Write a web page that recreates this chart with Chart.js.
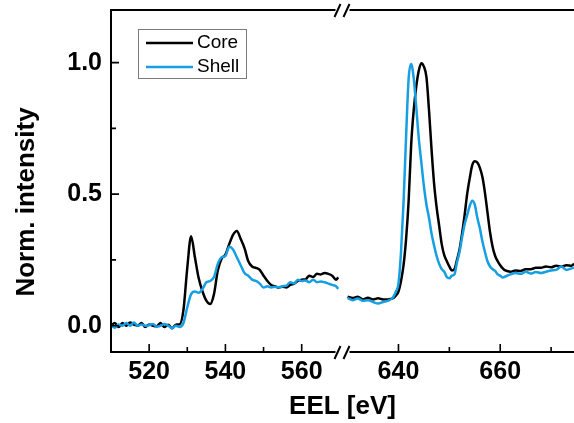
<!DOCTYPE html>
<html>
<head>
<meta charset="utf-8">
<script src="https://cdn.jsdelivr.net/npm/chart.js@4"></script>
<style>
  html, body { margin: 0; padding: 0; background: #fff; }
  #wrap { position: relative; width: 574px; height: 423px; }
</style>
</head>
<body>
<div id="wrap"><canvas id="myChart"></canvas></div>
<script>
// O K-edge region (left of the axis break)
const energyLeft = [510, 511, 512, 513, 514, 515, 516, 517, 518, 519,
    520, 521, 522, 523, 524, 525, 526, 527, 528, 529,
    530, 531, 532, 533, 534, 535, 536, 537, 538, 539,
    540, 541, 542, 543, 544, 545, 546, 547, 548, 549,
    550, 551, 552, 553, 554, 555, 556, 557, 558, 559,
    560, 561, 562, 563, 564, 565, 566, 567, 568, 569, 569.6];
const coreLeft = [0.000, 0.010, -0.005, 0.010, 0.000, 0.012, 0.004, 0.000, 0.010, -0.005,
    0.005, 0.000, -0.002, 0.010, -0.005, 0.004, -0.010, 0.004, 0.005, 0.060,
    0.220, 0.340, 0.260, 0.180, 0.130, 0.095, 0.082, 0.120, 0.210, 0.255,
    0.270, 0.310, 0.345, 0.360, 0.330, 0.295, 0.245, 0.225, 0.220, 0.212,
    0.190, 0.170, 0.155, 0.150, 0.145, 0.148, 0.145, 0.155, 0.160, 0.170,
    0.175, 0.176, 0.190, 0.185, 0.197, 0.195, 0.200, 0.197, 0.190, 0.175, 0.184];
const shellLeft = [0.000, -0.008, 0.005, 0.000, 0.010, 0.000, 0.012, 0.000, 0.005, 0.000,
    0.002, 0.006, -0.004, 0.000, 0.006, 0.000, -0.010, 0.000, -0.005, 0.010,
    0.070, 0.120, 0.130, 0.125, 0.140, 0.165, 0.170, 0.185, 0.235, 0.260,
    0.265, 0.300, 0.290, 0.260, 0.230, 0.200, 0.190, 0.175, 0.170, 0.160,
    0.145, 0.150, 0.145, 0.148, 0.146, 0.150, 0.152, 0.165, 0.160, 0.175,
    0.170, 0.172, 0.165, 0.175, 0.165, 0.168, 0.165, 0.160, 0.155, 0.150, 0.140];

// Mn L-edge region (right of the axis break)
const energyRight = [630, 631, 632, 633, 634, 635, 636, 637, 638,
    638.5, 639, 639.5, 640, 640.5, 641, 641.5, 642, 642.5, 643, 643.5,
    644, 644.5, 645, 645.5, 646, 646.5, 647, 647.5, 648, 648.5,
    649, 649.5, 650, 650.5, 651, 651.5, 652, 652.5, 653, 653.5,
    654, 654.5, 655, 655.5, 656, 656.5, 657, 657.5, 658, 658.5,
    659, 659.5, 660, 660.5, 661,
    662, 663, 664, 665, 666, 667, 668, 669, 670, 671, 672, 673, 674, 674.5];
const coreRight = [0.110, 0.105, 0.110, 0.100, 0.106, 0.100, 0.104, 0.100, 0.100,
    0.102, 0.105, 0.115, 0.130, 0.170, 0.230, 0.330, 0.475, 0.690, 0.820, 0.910,
    0.970, 0.998, 0.985, 0.945, 0.820, 0.670, 0.540, 0.450, 0.380, 0.310,
    0.268, 0.245, 0.225, 0.210, 0.215, 0.250, 0.290, 0.350, 0.420, 0.500,
    0.560, 0.610, 0.625, 0.620, 0.600, 0.565, 0.505, 0.430, 0.355, 0.300,
    0.265, 0.245, 0.230, 0.218, 0.210,
    0.205, 0.210, 0.208, 0.215, 0.215, 0.220, 0.220, 0.225, 0.222, 0.228, 0.225, 0.230, 0.228, 0.235];
const shellRight = [0.105, 0.097, 0.103, 0.095, 0.097, 0.090, 0.084, 0.090, 0.095,
    0.100, 0.110, 0.130, 0.160, 0.280, 0.470, 0.720, 0.940, 0.995, 0.940, 0.830,
    0.710, 0.620, 0.530, 0.460, 0.410, 0.350, 0.305, 0.265, 0.235, 0.215,
    0.205, 0.185, 0.180, 0.190, 0.195, 0.240, 0.280, 0.335, 0.385, 0.420,
    0.455, 0.475, 0.460, 0.410, 0.370, 0.320, 0.280, 0.245, 0.225, 0.215,
    0.208, 0.195, 0.190, 0.183, 0.187,
    0.195, 0.200, 0.197, 0.205, 0.198, 0.204, 0.200, 0.205, 0.210, 0.212, 0.225, 0.212, 0.218, 0.222];

const yTicks = [0, 0.5, 1.0];
const yMinor = [0.25, 0.75];
const xLeftTicks = [520, 540, 560];
const xLeftMinor = [530, 550];
const xRightTicks = [640, 660];
const xRightMinor = [650, 670];

const coreColor = "#000000";
const shellColor = "#169fe2";

function pts(xs, ys) {
    return xs.map((x, i) => ({x: x, y: ys[i]}));
}

const tickFont = {family: "'Liberation Sans', Arial, sans-serif", size: 25, weight: "bold"};

// axes frame, inward ticks, break marks, titles, legend
const framePlugin = {
    id: "frame",
    afterDraw(chart) {
        const c = chart.ctx;
        const a = chart.chartArea;
        const y = chart.scales.y;
        const xl = chart.scales.xL;
        const xr = chart.scales.xR;
        const brk = xl.right;
        c.save();
        c.strokeStyle = "#000";
        c.lineWidth = 2;
        c.beginPath();
        c.moveTo(a.left, a.top - 1);
        c.lineTo(a.left, a.bottom + 1);
        // bottom and top lines with gap at the break
        c.moveTo(a.left, a.bottom);
        c.lineTo(brk - 7, a.bottom);
        c.moveTo(brk + 7, a.bottom);
        c.lineTo(a.right, a.bottom);
        c.moveTo(a.left, a.top);
        c.lineTo(brk - 7, a.top);
        c.moveTo(brk + 7, a.top);
        c.lineTo(a.right, a.top);
        c.stroke();

        // ticks
        c.lineWidth = 1.6;
        c.beginPath();
        yTicks.forEach(v => { const p = y.getPixelForValue(v); c.moveTo(a.left, p); c.lineTo(a.left + 8, p); });
        yMinor.forEach(v => { const p = y.getPixelForValue(v); c.moveTo(a.left, p); c.lineTo(a.left + 5, p); });
        xLeftTicks.forEach(v => { const p = xl.getPixelForValue(v); c.moveTo(p, a.bottom); c.lineTo(p, a.bottom - 8); });
        xLeftMinor.forEach(v => { const p = xl.getPixelForValue(v); c.moveTo(p, a.bottom); c.lineTo(p, a.bottom - 5); });
        xRightTicks.forEach(v => { const p = xr.getPixelForValue(v); c.moveTo(p, a.bottom); c.lineTo(p, a.bottom - 8); });
        xRightMinor.forEach(v => { const p = xr.getPixelForValue(v); c.moveTo(p, a.bottom); c.lineTo(p, a.bottom - 5); });
        c.stroke();

        // break marks //
        c.lineWidth = 2;
        c.beginPath();
        [a.top, a.bottom].forEach(yy => {
            c.moveTo(brk - 8, yy + 7); c.lineTo(brk - 2, yy - 6);
            c.moveTo(brk + 1, yy + 7); c.lineTo(brk + 7, yy - 6);
        });
        c.stroke();

        // axis titles
        c.fillStyle = "#000";
        c.font = "bold 26px 'Liberation Sans', Arial, sans-serif";
        c.textAlign = "center";
        c.textBaseline = "middle";
        c.fillText("EEL [eV]", brk, 407);
        c.save();
        c.translate(27, 202);
        c.rotate(-Math.PI / 2);
        c.fillText("Norm. intensity", 0, 0);
        c.restore();

        // legend
        c.strokeStyle = "#7a7a7a";
        c.lineWidth = 1;
        c.strokeRect(138.5, 29.5, 108, 49);
        c.font = "19px 'Liberation Sans', Arial, sans-serif";
        c.textAlign = "left";
        c.lineWidth = 2.5;
        [["Core", coreColor, 43], ["Shell", shellColor, 67]].forEach(e => {
            c.strokeStyle = e[1];
            c.beginPath();
            c.moveTo(146, e[2]);
            c.lineTo(193, e[2]);
            c.stroke();
            c.fillStyle = "#000";
            c.fillText(e[0], 197, e[2]);
        });
        c.restore();
    }
};

const lineStyle = {
    pointRadius: 0,
    borderWidth: 2.5,
    fill: false,
    cubicInterpolationMode: "monotone"
};

// no automatic edge padding for the tick labels
function noPad(s) {
    s.paddingTop = 0;
    s.paddingBottom = 0;
    s.paddingLeft = 0;
    s.paddingRight = 0;
}

const ctx = document.getElementById("myChart");
const myChart = new Chart(ctx, {
    type: "line",
    data: {
        datasets: [
            Object.assign({label: "Shell", data: pts(energyLeft, shellLeft), borderColor: shellColor, xAxisID: "xL", order: 0}, lineStyle),
            Object.assign({label: "Shell", data: pts(energyRight, shellRight), borderColor: shellColor, xAxisID: "xR", order: 0}, lineStyle),
            Object.assign({label: "Core", data: pts(energyLeft, coreLeft), borderColor: coreColor, xAxisID: "xL", order: 1}, lineStyle),
            Object.assign({label: "Core", data: pts(energyRight, coreRight), borderColor: coreColor, xAxisID: "xR", order: 1}, lineStyle)
        ]
    },
    options: {
        responsive: true,
        maintainAspectRatio: false,
        animation: false,
        layout: {padding: {left: 0, top: 10, right: 0, bottom: 0}},
        plugins: {
            legend: {display: false},
            tooltip: {enabled: false}
        },
        scales: {
            y: {
                type: "linear",
                position: "left",
                min: -0.1,
                max: 1.2,
                grid: {display: false, drawTicks: false},
                border: {display: false},
                afterBuildTicks: s => { s.ticks = yTicks.map(v => ({value: v})); },
                afterFit: s => { s.width = 111; noPad(s); },
                ticks: {
                    font: tickFont,
                    color: "#000",
                    padding: 9,
                    callback: v => Number(v).toFixed(1)
                }
            },
            xL: {
                type: "linear",
                position: "bottom",
                stack: "x",
                stackWeight: 1,
                min: 510,
                max: 570.7,
                grid: {display: false, drawTicks: false},
                border: {display: false},
                afterBuildTicks: s => { s.ticks = xLeftTicks.map(v => ({value: v})); },
                afterFit: s => { s.height = 71; noPad(s); },
                ticks: {font: tickFont, color: "#000", padding: 5, maxRotation: 0}
            },
            xR: {
                type: "linear",
                position: "bottom",
                stack: "x",
                stackWeight: 1,
                min: 629,
                max: 674.5,
                grid: {display: false, drawTicks: false},
                border: {display: false},
                afterBuildTicks: s => { s.ticks = xRightTicks.map(v => ({value: v})); },
                afterFit: s => { s.height = 71; noPad(s); },
                ticks: {font: tickFont, color: "#000", padding: 5, maxRotation: 0}
            }
        }
    },
    plugins: [framePlugin]
});
</script>
</body>
</html>
